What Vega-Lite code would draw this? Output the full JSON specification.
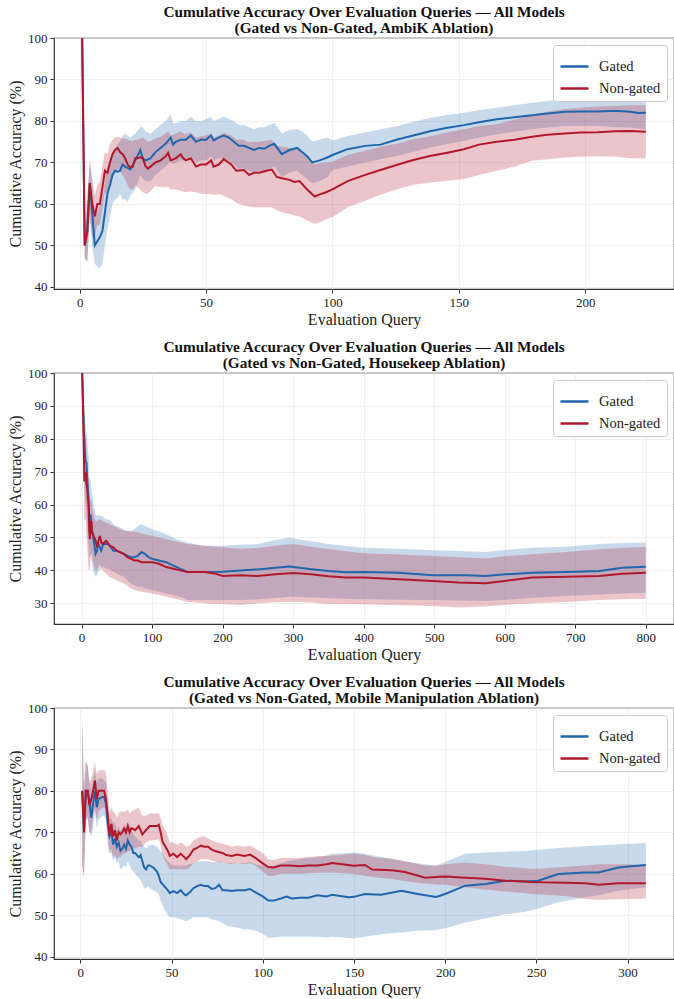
{
"$schema": "https://vega.github.io/schema/vega-lite/v6.json",
"background": "white",
"padding": {"left": 6, "top": 4, "right": 2, "bottom": 0},
"config": {
  "font": "Liberation Serif",
  "view": {"stroke": "#333333", "strokeWidth": 1.2},
  "axis": {"labelFont": "Liberation Serif", "labelFontSize": 13, "labelColor": "#222222", "titleFont": "Liberation Serif", "titleFontSize": 16, "titleFontWeight": "normal", "titleColor": "#222222", "domain": false, "tickColor": "#333333", "tickSize": 4, "labelPadding": 3, "gridColor": "#ececec", "gridWidth": 0.8},
  "axisX": {"titlePadding": 2},
  "title": {"font": "Liberation Serif", "fontSize": 15.3, "fontWeight": "bold", "color": "#111111", "offset": -4, "lineHeight": 16},
  "legend": {"orient": "top-right", "offset": 7, "fillColor": "white", "strokeColor": "#cccccc", "padding": 6, "cornerRadius": 3, "symbolType": "stroke", "symbolStrokeWidth": 2.5, "symbolSize": 784, "symbolOpacity": 1, "labelFont": "Liberation Serif", "labelFontSize": 14.5, "labelColor": "#222222", "rowPadding": -7, "labelOffset": 9},
  "concat": {"spacing": 11}
},
"resolve": {"scale": {"color": "independent", "x": "independent", "y": "independent"}, "legend": {"color": "independent"}},
"datasets": {
"ambik": [
{"x":1,"s":"Gated","m":100,"lo":100,"hi":100},
{"x":2,"s":"Gated","m":50,"lo":47,"hi":53},
{"x":3,"s":"Gated","m":53.3,"lo":46,"hi":61},
{"x":4,"s":"Gated","m":65,"lo":57,"hi":70.5},
{"x":5,"s":"Gated","m":57.5,"lo":50,"hi":65},
{"x":6,"s":"Gated","m":50,"lo":45.5,"hi":57},
{"x":7,"s":"Gated","m":51,"lo":45,"hi":58},
{"x":8,"s":"Gated","m":52,"lo":44.5,"hi":59.5},
{"x":9,"s":"Gated","m":53.5,"lo":45.5,"hi":61},
{"x":10,"s":"Gated","m":58,"lo":50,"hi":65},
{"x":11,"s":"Gated","m":62.5,"lo":54,"hi":69},
{"x":12,"s":"Gated","m":64.5,"lo":57,"hi":71},
{"x":13,"s":"Gated","m":67,"lo":60,"hi":72.5},
{"x":14,"s":"Gated","m":68,"lo":61,"hi":73.5},
{"x":15,"s":"Gated","m":67.8,"lo":61.5,"hi":74.5},
{"x":16,"s":"Gated","m":68,"lo":62.5,"hi":75},
{"x":17,"s":"Gated","m":69.5,"lo":61,"hi":76.5},
{"x":18,"s":"Gated","m":69,"lo":61.2,"hi":77},
{"x":19,"s":"Gated","m":68.7,"lo":60.5,"hi":76.5},
{"x":20,"s":"Gated","m":68.3,"lo":62,"hi":76},
{"x":22,"s":"Gated","m":70.5,"lo":63.5,"hi":77},
{"x":24,"s":"Gated","m":73,"lo":67,"hi":78.5},
{"x":25,"s":"Gated","m":71,"lo":66,"hi":78.5},
{"x":26,"s":"Gated","m":70.5,"lo":65.5,"hi":77.5},
{"x":28,"s":"Gated","m":71,"lo":65.5,"hi":77},
{"x":30,"s":"Gated","m":72.5,"lo":67,"hi":78},
{"x":32,"s":"Gated","m":73.5,"lo":68,"hi":79},
{"x":34,"s":"Gated","m":74.5,"lo":69,"hi":80},
{"x":36,"s":"Gated","m":76,"lo":70.5,"hi":81.5},
{"x":37,"s":"Gated","m":74.3,"lo":69.5,"hi":79.5},
{"x":38,"s":"Gated","m":75,"lo":70,"hi":79.5},
{"x":40,"s":"Gated","m":75.5,"lo":70.5,"hi":80},
{"x":42,"s":"Gated","m":75.5,"lo":70.5,"hi":80},
{"x":44,"s":"Gated","m":76.5,"lo":71.5,"hi":81},
{"x":46,"s":"Gated","m":75,"lo":70,"hi":80},
{"x":48,"s":"Gated","m":75.5,"lo":70.5,"hi":80},
{"x":50,"s":"Gated","m":75.5,"lo":70.5,"hi":80.5},
{"x":52,"s":"Gated","m":76.5,"lo":71.5,"hi":81},
{"x":53,"s":"Gated","m":75.3,"lo":70.5,"hi":80},
{"x":55,"s":"Gated","m":76,"lo":71,"hi":80.5},
{"x":57,"s":"Gated","m":76.5,"lo":71,"hi":81},
{"x":59,"s":"Gated","m":76,"lo":70.5,"hi":80.5},
{"x":61,"s":"Gated","m":75,"lo":69.5,"hi":80},
{"x":63,"s":"Gated","m":74,"lo":68.5,"hi":79},
{"x":65,"s":"Gated","m":74,"lo":68.5,"hi":79},
{"x":67,"s":"Gated","m":73.5,"lo":68,"hi":78.5},
{"x":69,"s":"Gated","m":73,"lo":67.5,"hi":78},
{"x":71,"s":"Gated","m":73.5,"lo":68,"hi":78.5},
{"x":73,"s":"Gated","m":73.3,"lo":67.5,"hi":78.5},
{"x":75,"s":"Gated","m":74,"lo":68.5,"hi":79},
{"x":77,"s":"Gated","m":74.5,"lo":69,"hi":79.5},
{"x":80,"s":"Gated","m":72,"lo":66.5,"hi":77},
{"x":83,"s":"Gated","m":73,"lo":67.5,"hi":77.8},
{"x":86,"s":"Gated","m":73.5,"lo":68,"hi":78},
{"x":88,"s":"Gated","m":72.5,"lo":67,"hi":77.5},
{"x":90,"s":"Gated","m":71.5,"lo":66,"hi":76.5},
{"x":92,"s":"Gated","m":70,"lo":65,"hi":75},
{"x":95,"s":"Gated","m":70.5,"lo":65.5,"hi":75.5},
{"x":98,"s":"Gated","m":71.2,"lo":66.5,"hi":76},
{"x":100,"s":"Gated","m":71.8,"lo":68.2,"hi":75.3},
{"x":106,"s":"Gated","m":73.2,"lo":69,"hi":76.4},
{"x":113,"s":"Gated","m":74,"lo":70,"hi":77.2},
{"x":119,"s":"Gated","m":74.3,"lo":70.8,"hi":78},
{"x":126,"s":"Gated","m":75.6,"lo":71.6,"hi":78.8},
{"x":132,"s":"Gated","m":76.5,"lo":72.6,"hi":79.8},
{"x":139,"s":"Gated","m":77.6,"lo":73.6,"hi":80.8},
{"x":145,"s":"Gated","m":78.3,"lo":74.4,"hi":81.4},
{"x":152,"s":"Gated","m":79,"lo":75.2,"hi":82},
{"x":158,"s":"Gated","m":79.7,"lo":76,"hi":82.6},
{"x":165,"s":"Gated","m":80.4,"lo":76.8,"hi":83.2},
{"x":172,"s":"Gated","m":80.9,"lo":77.4,"hi":83.8},
{"x":179,"s":"Gated","m":81.4,"lo":78,"hi":84.4},
{"x":185,"s":"Gated","m":81.8,"lo":78.4,"hi":84.8},
{"x":192,"s":"Gated","m":82.2,"lo":78.8,"hi":85.2},
{"x":198,"s":"Gated","m":82.3,"lo":78.8,"hi":85.6},
{"x":205,"s":"Gated","m":82.3,"lo":78.8,"hi":86},
{"x":210,"s":"Gated","m":82.4,"lo":78.6,"hi":86.1},
{"x":213,"s":"Gated","m":82.4,"lo":78.5,"hi":86.2},
{"x":218,"s":"Gated","m":82.2,"lo":78.4,"hi":86.3},
{"x":221,"s":"Gated","m":81.9,"lo":78.2,"hi":86.3},
{"x":224,"s":"Gated","m":82,"lo":78,"hi":86.4},
{"x":1,"s":"Non-gated","m":100,"lo":100,"hi":100},
{"x":2,"s":"Non-gated","m":50,"lo":47,"hi":53},
{"x":3,"s":"Non-gated","m":53.3,"lo":46,"hi":61},
{"x":4,"s":"Non-gated","m":65,"lo":57,"hi":70.5},
{"x":5,"s":"Non-gated","m":60,"lo":52,"hi":66},
{"x":6,"s":"Non-gated","m":57,"lo":52,"hi":62},
{"x":7,"s":"Non-gated","m":60,"lo":55,"hi":64.5},
{"x":8,"s":"Non-gated","m":60,"lo":55,"hi":65.5},
{"x":9,"s":"Non-gated","m":64,"lo":59,"hi":69},
{"x":10,"s":"Non-gated","m":68,"lo":63,"hi":72.5},
{"x":11,"s":"Non-gated","m":67.5,"lo":62,"hi":72},
{"x":12,"s":"Non-gated","m":70,"lo":64.5,"hi":74.5},
{"x":13,"s":"Non-gated","m":72,"lo":66.5,"hi":75.5},
{"x":14,"s":"Non-gated","m":73,"lo":67.5,"hi":76},
{"x":15,"s":"Non-gated","m":73.5,"lo":68.5,"hi":76.2},
{"x":16,"s":"Non-gated","m":72.5,"lo":68,"hi":76},
{"x":17,"s":"Non-gated","m":72,"lo":67,"hi":75.8},
{"x":18,"s":"Non-gated","m":71,"lo":66,"hi":75.8},
{"x":19,"s":"Non-gated","m":69.5,"lo":64.5,"hi":75.5},
{"x":20,"s":"Non-gated","m":68.8,"lo":63.5,"hi":75.3},
{"x":21,"s":"Non-gated","m":69,"lo":63.5,"hi":75.2},
{"x":22,"s":"Non-gated","m":71,"lo":64.4,"hi":75.5},
{"x":23,"s":"Non-gated","m":71,"lo":64,"hi":75.5},
{"x":24,"s":"Non-gated","m":71.3,"lo":63.5,"hi":75.8},
{"x":25,"s":"Non-gated","m":71,"lo":62.8,"hi":76},
{"x":26,"s":"Non-gated","m":69.2,"lo":62.5,"hi":75.5},
{"x":27,"s":"Non-gated","m":68.5,"lo":62.5,"hi":75},
{"x":28,"s":"Non-gated","m":69,"lo":63,"hi":75.2},
{"x":30,"s":"Non-gated","m":70,"lo":64.4,"hi":75.8},
{"x":32,"s":"Non-gated","m":70.5,"lo":64,"hi":76.2},
{"x":34,"s":"Non-gated","m":71.5,"lo":64,"hi":77},
{"x":35,"s":"Non-gated","m":72.3,"lo":64.2,"hi":77.5},
{"x":36,"s":"Non-gated","m":70.5,"lo":63.5,"hi":76.5},
{"x":38,"s":"Non-gated","m":71,"lo":63.5,"hi":77},
{"x":40,"s":"Non-gated","m":72,"lo":63.2,"hi":77.5},
{"x":41,"s":"Non-gated","m":71,"lo":63,"hi":77},
{"x":42,"s":"Non-gated","m":70.5,"lo":62.8,"hi":76.8},
{"x":44,"s":"Non-gated","m":71,"lo":63,"hi":77.2},
{"x":46,"s":"Non-gated","m":69,"lo":62.8,"hi":76},
{"x":48,"s":"Non-gated","m":69.5,"lo":62.5,"hi":76.3},
{"x":50,"s":"Non-gated","m":69.5,"lo":62.4,"hi":76.5},
{"x":52,"s":"Non-gated","m":70.5,"lo":62.4,"hi":77},
{"x":53,"s":"Non-gated","m":69,"lo":62.2,"hi":76},
{"x":55,"s":"Non-gated","m":69.5,"lo":62.4,"hi":76.5},
{"x":57,"s":"Non-gated","m":70.8,"lo":62,"hi":77.2},
{"x":60,"s":"Non-gated","m":69.5,"lo":61.2,"hi":76.5},
{"x":62,"s":"Non-gated","m":68,"lo":60.2,"hi":75.5},
{"x":65,"s":"Non-gated","m":68.2,"lo":59.6,"hi":75.5},
{"x":67,"s":"Non-gated","m":67,"lo":59.4,"hi":74.8},
{"x":69,"s":"Non-gated","m":67.5,"lo":59.2,"hi":75},
{"x":71,"s":"Non-gated","m":67.5,"lo":59.2,"hi":75},
{"x":74,"s":"Non-gated","m":68,"lo":59.2,"hi":75.3},
{"x":76,"s":"Non-gated","m":68.3,"lo":59.2,"hi":75.5},
{"x":78,"s":"Non-gated","m":66.5,"lo":58.5,"hi":74},
{"x":80,"s":"Non-gated","m":66.2,"lo":58,"hi":73.8},
{"x":83,"s":"Non-gated","m":65.8,"lo":57.6,"hi":73.5},
{"x":85,"s":"Non-gated","m":65.3,"lo":57.2,"hi":73},
{"x":87,"s":"Non-gated","m":65.5,"lo":57,"hi":73},
{"x":90,"s":"Non-gated","m":63.5,"lo":56,"hi":71.5},
{"x":93,"s":"Non-gated","m":61.8,"lo":55.2,"hi":69.5},
{"x":95,"s":"Non-gated","m":62.3,"lo":55.6,"hi":69.8},
{"x":97,"s":"Non-gated","m":62.7,"lo":56.2,"hi":70},
{"x":100,"s":"Non-gated","m":63.5,"lo":56.8,"hi":70.2},
{"x":106,"s":"Non-gated","m":65.5,"lo":59.2,"hi":71.8},
{"x":113,"s":"Non-gated","m":67,"lo":60.8,"hi":72.8},
{"x":119,"s":"Non-gated","m":68.2,"lo":62.2,"hi":73.8},
{"x":126,"s":"Non-gated","m":69.5,"lo":63.6,"hi":74.6},
{"x":132,"s":"Non-gated","m":70.6,"lo":64.6,"hi":75.6},
{"x":139,"s":"Non-gated","m":71.6,"lo":65.2,"hi":76.3},
{"x":145,"s":"Non-gated","m":72.3,"lo":65.6,"hi":77.2},
{"x":152,"s":"Non-gated","m":73.2,"lo":66,"hi":78},
{"x":158,"s":"Non-gated","m":74.3,"lo":67,"hi":78.8},
{"x":165,"s":"Non-gated","m":75,"lo":68,"hi":79.2},
{"x":172,"s":"Non-gated","m":75.5,"lo":69,"hi":80.3},
{"x":179,"s":"Non-gated","m":76.2,"lo":70.4,"hi":81.5},
{"x":185,"s":"Non-gated","m":76.7,"lo":70.8,"hi":82.2},
{"x":192,"s":"Non-gated","m":77,"lo":71.2,"hi":82.8},
{"x":198,"s":"Non-gated","m":77.2,"lo":71.4,"hi":83.2},
{"x":205,"s":"Non-gated","m":77.3,"lo":71.5,"hi":83.5},
{"x":212,"s":"Non-gated","m":77.5,"lo":71.4,"hi":83.7},
{"x":218,"s":"Non-gated","m":77.6,"lo":71,"hi":83.8},
{"x":224,"s":"Non-gated","m":77.4,"lo":71,"hi":83.8}
],
"house": [
{"x":1,"s":"Gated","m":100,"lo":100,"hi":100},
{"x":2,"s":"Gated","m":92,"lo":85,"hi":99},
{"x":3,"s":"Gated","m":85,"lo":75,"hi":95},
{"x":4,"s":"Gated","m":80,"lo":68,"hi":90},
{"x":5,"s":"Gated","m":75,"lo":62,"hi":86},
{"x":6,"s":"Gated","m":73,"lo":60,"hi":84},
{"x":7,"s":"Gated","m":72.8,"lo":58,"hi":82},
{"x":8,"s":"Gated","m":68,"lo":54,"hi":80},
{"x":9,"s":"Gated","m":65,"lo":50,"hi":77},
{"x":10,"s":"Gated","m":62,"lo":47,"hi":75},
{"x":11,"s":"Gated","m":55,"lo":44,"hi":68},
{"x":12,"s":"Gated","m":56,"lo":44,"hi":68},
{"x":13,"s":"Gated","m":57,"lo":45,"hi":67},
{"x":14,"s":"Gated","m":54,"lo":43,"hi":65},
{"x":15,"s":"Gated","m":52,"lo":42,"hi":63},
{"x":16,"s":"Gated","m":51,"lo":40,"hi":62},
{"x":18,"s":"Gated","m":48,"lo":39,"hi":59},
{"x":20,"s":"Gated","m":45,"lo":38,"hi":57},
{"x":22,"s":"Gated","m":46,"lo":38.5,"hi":56.5},
{"x":24,"s":"Gated","m":48,"lo":40,"hi":57},
{"x":26,"s":"Gated","m":47,"lo":40,"hi":56.5},
{"x":28,"s":"Gated","m":46,"lo":40.5,"hi":56.5},
{"x":30,"s":"Gated","m":47.5,"lo":41,"hi":56.5},
{"x":32,"s":"Gated","m":48,"lo":41,"hi":56},
{"x":35,"s":"Gated","m":48,"lo":40.5,"hi":55.5},
{"x":38,"s":"Gated","m":48,"lo":40.5,"hi":55.5},
{"x":42,"s":"Gated","m":47,"lo":40,"hi":55},
{"x":45,"s":"Gated","m":46,"lo":39.5,"hi":54},
{"x":50,"s":"Gated","m":46,"lo":39,"hi":53.5},
{"x":55,"s":"Gated","m":45.5,"lo":38.5,"hi":53},
{"x":60,"s":"Gated","m":45,"lo":38,"hi":52.5},
{"x":65,"s":"Gated","m":44.5,"lo":37,"hi":52},
{"x":70,"s":"Gated","m":44,"lo":36,"hi":52},
{"x":75,"s":"Gated","m":44,"lo":35.5,"hi":52.5},
{"x":80,"s":"Gated","m":44.5,"lo":35,"hi":53.5},
{"x":85,"s":"Gated","m":45.5,"lo":35,"hi":54},
{"x":90,"s":"Gated","m":45,"lo":34.5,"hi":53.5},
{"x":95,"s":"Gated","m":44,"lo":34.2,"hi":53},
{"x":100,"s":"Gated","m":43.5,"lo":34,"hi":52.5},
{"x":110,"s":"Gated","m":43,"lo":33.5,"hi":51.8},
{"x":120,"s":"Gated","m":42.5,"lo":33,"hi":51},
{"x":125,"s":"Gated","m":42,"lo":32.8,"hi":50.5},
{"x":135,"s":"Gated","m":41,"lo":32.2,"hi":49.5},
{"x":145,"s":"Gated","m":40,"lo":31.5,"hi":48.8},
{"x":150,"s":"Gated","m":39.5,"lo":31,"hi":48.5},
{"x":160,"s":"Gated","m":39.5,"lo":31,"hi":48},
{"x":175,"s":"Gated","m":39.5,"lo":31,"hi":47.5},
{"x":200,"s":"Gated","m":39.6,"lo":31,"hi":47.5},
{"x":225,"s":"Gated","m":40,"lo":31,"hi":47.8},
{"x":250,"s":"Gated","m":40.3,"lo":31.2,"hi":48},
{"x":275,"s":"Gated","m":40.8,"lo":31.6,"hi":49.2},
{"x":295,"s":"Gated","m":41.2,"lo":32,"hi":50},
{"x":320,"s":"Gated","m":40.5,"lo":31.8,"hi":49},
{"x":350,"s":"Gated","m":39.8,"lo":31.5,"hi":48},
{"x":375,"s":"Gated","m":39.4,"lo":31.4,"hi":47.4},
{"x":400,"s":"Gated","m":39.5,"lo":31.2,"hi":46.9},
{"x":450,"s":"Gated","m":39.3,"lo":31.1,"hi":46.6},
{"x":498,"s":"Gated","m":38.5,"lo":31,"hi":46.1},
{"x":545,"s":"Gated","m":38.5,"lo":30.8,"hi":45.8},
{"x":573,"s":"Gated","m":38.3,"lo":30.7,"hi":45.6},
{"x":600,"s":"Gated","m":38.8,"lo":31,"hi":46.2},
{"x":639,"s":"Gated","m":39.3,"lo":31.7,"hi":46.9},
{"x":687,"s":"Gated","m":39.5,"lo":32.2,"hi":47.2},
{"x":734,"s":"Gated","m":39.8,"lo":32.7,"hi":48},
{"x":767,"s":"Gated","m":40.8,"lo":33,"hi":48.3},
{"x":800,"s":"Gated","m":41.1,"lo":33.2,"hi":48.5},
{"x":1,"s":"Non-gated","m":100,"lo":100,"hi":100},
{"x":2,"s":"Non-gated","m":90,"lo":82,"hi":98},
{"x":3,"s":"Non-gated","m":80,"lo":70,"hi":90},
{"x":4,"s":"Non-gated","m":67,"lo":56,"hi":78},
{"x":5,"s":"Non-gated","m":68,"lo":55,"hi":80},
{"x":6,"s":"Non-gated","m":70,"lo":56,"hi":80},
{"x":7,"s":"Non-gated","m":66,"lo":50,"hi":76},
{"x":8,"s":"Non-gated","m":65,"lo":48,"hi":72},
{"x":9,"s":"Non-gated","m":62,"lo":44,"hi":70},
{"x":10,"s":"Non-gated","m":60,"lo":40,"hi":68},
{"x":11,"s":"Non-gated","m":52,"lo":40,"hi":62},
{"x":12,"s":"Non-gated","m":49.5,"lo":41,"hi":60},
{"x":13,"s":"Non-gated","m":54,"lo":44,"hi":62},
{"x":14,"s":"Non-gated","m":55,"lo":45,"hi":61},
{"x":15,"s":"Non-gated","m":52,"lo":45,"hi":60},
{"x":16,"s":"Non-gated","m":51,"lo":43,"hi":58},
{"x":18,"s":"Non-gated","m":50,"lo":41,"hi":56},
{"x":20,"s":"Non-gated","m":49,"lo":40,"hi":55},
{"x":22,"s":"Non-gated","m":47,"lo":40,"hi":55},
{"x":24,"s":"Non-gated","m":49,"lo":41,"hi":55.5},
{"x":26,"s":"Non-gated","m":50.5,"lo":42,"hi":55.5},
{"x":28,"s":"Non-gated","m":48.5,"lo":41,"hi":55.5},
{"x":30,"s":"Non-gated","m":48,"lo":40,"hi":55},
{"x":35,"s":"Non-gated","m":49,"lo":39,"hi":54.5},
{"x":40,"s":"Non-gated","m":47.5,"lo":38,"hi":54},
{"x":45,"s":"Non-gated","m":47,"lo":37.5,"hi":53.5},
{"x":50,"s":"Non-gated","m":46,"lo":37,"hi":53},
{"x":55,"s":"Non-gated","m":45.5,"lo":36.5,"hi":52.5},
{"x":60,"s":"Non-gated","m":45,"lo":36,"hi":52},
{"x":65,"s":"Non-gated","m":44,"lo":35.3,"hi":52},
{"x":70,"s":"Non-gated","m":43.5,"lo":34.5,"hi":51.8},
{"x":75,"s":"Non-gated","m":43,"lo":34,"hi":51.7},
{"x":80,"s":"Non-gated","m":43,"lo":33.8,"hi":51.5},
{"x":85,"s":"Non-gated","m":42.5,"lo":33.5,"hi":51.2},
{"x":100,"s":"Non-gated","m":42.5,"lo":33,"hi":50.5},
{"x":110,"s":"Non-gated","m":42,"lo":32.5,"hi":50},
{"x":120,"s":"Non-gated","m":41,"lo":32,"hi":49.5},
{"x":130,"s":"Non-gated","m":40.5,"lo":31.5,"hi":49},
{"x":140,"s":"Non-gated","m":40,"lo":31,"hi":48.5},
{"x":150,"s":"Non-gated","m":39.5,"lo":30.5,"hi":48},
{"x":175,"s":"Non-gated","m":39.5,"lo":30,"hi":47.5},
{"x":190,"s":"Non-gated","m":39,"lo":29.8,"hi":47.2},
{"x":200,"s":"Non-gated","m":38.3,"lo":29.8,"hi":47},
{"x":225,"s":"Non-gated","m":38.5,"lo":29.5,"hi":46.5},
{"x":250,"s":"Non-gated","m":38.3,"lo":30,"hi":46.8},
{"x":275,"s":"Non-gated","m":38.8,"lo":30.3,"hi":47.5},
{"x":300,"s":"Non-gated","m":39.2,"lo":30.5,"hi":48},
{"x":325,"s":"Non-gated","m":38.8,"lo":30.2,"hi":47.2},
{"x":350,"s":"Non-gated","m":38.2,"lo":29.8,"hi":46.5},
{"x":375,"s":"Non-gated","m":37.8,"lo":29.7,"hi":45.8},
{"x":400,"s":"Non-gated","m":37.8,"lo":29.7,"hi":45.2},
{"x":450,"s":"Non-gated","m":37.3,"lo":29.4,"hi":44.8},
{"x":498,"s":"Non-gated","m":36.8,"lo":29.2,"hi":44.4},
{"x":535,"s":"Non-gated","m":36.3,"lo":28.7,"hi":44},
{"x":573,"s":"Non-gated","m":36.1,"lo":29,"hi":43.6},
{"x":600,"s":"Non-gated","m":36.8,"lo":29.5,"hi":44.3},
{"x":639,"s":"Non-gated","m":37.8,"lo":30,"hi":44.9},
{"x":687,"s":"Non-gated","m":38.1,"lo":30.4,"hi":45.6},
{"x":734,"s":"Non-gated","m":38.3,"lo":31,"hi":46.4},
{"x":767,"s":"Non-gated","m":39,"lo":31.2,"hi":46.8},
{"x":800,"s":"Non-gated","m":39.3,"lo":31.4,"hi":47.2}
],
"mobile": [
{"x":1,"s":"Gated","m":80,"lo":62,"hi":98},
{"x":2,"s":"Gated","m":70,"lo":60,"hi":80},
{"x":3,"s":"Gated","m":80,"lo":73,"hi":87},
{"x":4,"s":"Gated","m":80,"lo":73,"hi":86},
{"x":5,"s":"Gated","m":77,"lo":70,"hi":82},
{"x":6,"s":"Gated","m":73.5,"lo":69,"hi":80},
{"x":7,"s":"Gated","m":77,"lo":71,"hi":83},
{"x":8,"s":"Gated","m":80,"lo":75,"hi":85},
{"x":9,"s":"Gated","m":76,"lo":71,"hi":82},
{"x":10,"s":"Gated","m":78,"lo":73,"hi":83},
{"x":11,"s":"Gated","m":78.3,"lo":73.5,"hi":83},
{"x":12,"s":"Gated","m":78.5,"lo":74,"hi":83},
{"x":13,"s":"Gated","m":78.5,"lo":74,"hi":82.5},
{"x":14,"s":"Gated","m":77,"lo":73,"hi":82},
{"x":15,"s":"Gated","m":72,"lo":67,"hi":77},
{"x":16,"s":"Gated","m":69,"lo":65,"hi":73},
{"x":17,"s":"Gated","m":70,"lo":65,"hi":73.5},
{"x":18,"s":"Gated","m":67,"lo":63,"hi":72},
{"x":19,"s":"Gated","m":68.5,"lo":64,"hi":72.5},
{"x":20,"s":"Gated","m":66.5,"lo":62.5,"hi":70.5},
{"x":21,"s":"Gated","m":67.5,"lo":63,"hi":71.5},
{"x":22,"s":"Gated","m":65.5,"lo":61,"hi":70.5},
{"x":23,"s":"Gated","m":66,"lo":61.5,"hi":70.5},
{"x":24,"s":"Gated","m":67,"lo":62,"hi":71},
{"x":25,"s":"Gated","m":66,"lo":61.5,"hi":71},
{"x":26,"s":"Gated","m":68,"lo":63,"hi":72.5},
{"x":27,"s":"Gated","m":67,"lo":62,"hi":71.5},
{"x":28,"s":"Gated","m":66.5,"lo":61,"hi":70.5},
{"x":29,"s":"Gated","m":65,"lo":60.5,"hi":69.5},
{"x":30,"s":"Gated","m":65,"lo":60,"hi":69},
{"x":31,"s":"Gated","m":64.5,"lo":59.5,"hi":68.5},
{"x":32,"s":"Gated","m":64,"lo":59,"hi":68},
{"x":33,"s":"Gated","m":64.5,"lo":58.5,"hi":68},
{"x":34,"s":"Gated","m":63,"lo":57.5,"hi":67},
{"x":35,"s":"Gated","m":61.5,"lo":56.5,"hi":66.5},
{"x":36,"s":"Gated","m":61,"lo":56.5,"hi":66},
{"x":37,"s":"Gated","m":62,"lo":57,"hi":66.5},
{"x":38,"s":"Gated","m":62,"lo":56.5,"hi":67},
{"x":40,"s":"Gated","m":61.5,"lo":56,"hi":67},
{"x":42,"s":"Gated","m":60.5,"lo":55.5,"hi":66.5},
{"x":43,"s":"Gated","m":59.5,"lo":55,"hi":66},
{"x":44,"s":"Gated","m":58,"lo":53.5,"hi":65.5},
{"x":45,"s":"Gated","m":57.5,"lo":52.5,"hi":65},
{"x":46,"s":"Gated","m":57,"lo":51.5,"hi":64},
{"x":48,"s":"Gated","m":56,"lo":50,"hi":63},
{"x":49,"s":"Gated","m":55.3,"lo":49.5,"hi":62.5},
{"x":51,"s":"Gated","m":55.8,"lo":49.5,"hi":62},
{"x":53,"s":"Gated","m":55.3,"lo":49.3,"hi":62},
{"x":55,"s":"Gated","m":56,"lo":49,"hi":62},
{"x":57,"s":"Gated","m":55,"lo":48.7,"hi":62},
{"x":58,"s":"Gated","m":54.8,"lo":48.5,"hi":62},
{"x":60,"s":"Gated","m":55.5,"lo":49,"hi":62.3},
{"x":62,"s":"Gated","m":56.5,"lo":49.5,"hi":62.5},
{"x":64,"s":"Gated","m":57,"lo":49.5,"hi":63},
{"x":66,"s":"Gated","m":57.3,"lo":49.5,"hi":63},
{"x":68,"s":"Gated","m":57,"lo":49.5,"hi":63},
{"x":70,"s":"Gated","m":57,"lo":49.5,"hi":63},
{"x":72,"s":"Gated","m":56.3,"lo":49,"hi":62.8},
{"x":74,"s":"Gated","m":56.5,"lo":48.8,"hi":62.8},
{"x":76,"s":"Gated","m":57.3,"lo":48.5,"hi":63},
{"x":78,"s":"Gated","m":56,"lo":48,"hi":62.7},
{"x":80,"s":"Gated","m":56,"lo":47.5,"hi":62.5},
{"x":83,"s":"Gated","m":55.8,"lo":47.2,"hi":62.5},
{"x":86,"s":"Gated","m":56,"lo":47,"hi":62.5},
{"x":90,"s":"Gated","m":56,"lo":46.5,"hi":62.5},
{"x":93,"s":"Gated","m":56.3,"lo":46.5,"hi":62.8},
{"x":96,"s":"Gated","m":55.5,"lo":46.3,"hi":62.2},
{"x":100,"s":"Gated","m":54.5,"lo":45.5,"hi":62},
{"x":103,"s":"Gated","m":53.5,"lo":44.5,"hi":61.8},
{"x":106,"s":"Gated","m":53.5,"lo":44.6,"hi":62},
{"x":110,"s":"Gated","m":54,"lo":44.8,"hi":62.5},
{"x":113,"s":"Gated","m":54.5,"lo":44.8,"hi":63},
{"x":116,"s":"Gated","m":54,"lo":44.8,"hi":63.2},
{"x":120,"s":"Gated","m":54.2,"lo":44.8,"hi":63.5},
{"x":125,"s":"Gated","m":54.2,"lo":44.8,"hi":63.8},
{"x":130,"s":"Gated","m":54.8,"lo":44.8,"hi":64},
{"x":135,"s":"Gated","m":54.5,"lo":44.6,"hi":64.3},
{"x":138,"s":"Gated","m":54.9,"lo":44.8,"hi":64.8},
{"x":147,"s":"Gated","m":54.3,"lo":44.5,"hi":65},
{"x":150,"s":"Gated","m":54.4,"lo":44.4,"hi":65.2},
{"x":156,"s":"Gated","m":55.1,"lo":44.8,"hi":64.8},
{"x":165,"s":"Gated","m":54.9,"lo":45.4,"hi":64},
{"x":176,"s":"Gated","m":55.9,"lo":45.8,"hi":63.1},
{"x":185,"s":"Gated","m":55.1,"lo":46.2,"hi":62.5},
{"x":195,"s":"Gated","m":54.4,"lo":46.4,"hi":61.9},
{"x":200,"s":"Gated","m":55.1,"lo":46.8,"hi":62.8},
{"x":211,"s":"Gated","m":57.1,"lo":48.2,"hi":64.8},
{"x":222,"s":"Gated","m":57.5,"lo":49.2,"hi":65.1},
{"x":233,"s":"Gated","m":58.3,"lo":50.2,"hi":65.3},
{"x":244,"s":"Gated","m":58.1,"lo":50.8,"hi":65.5},
{"x":251,"s":"Gated","m":58.3,"lo":51.6,"hi":65.8},
{"x":262,"s":"Gated","m":59.9,"lo":53.1,"hi":66.2},
{"x":277,"s":"Gated","m":60.3,"lo":54.3,"hi":66.6},
{"x":284,"s":"Gated","m":60.3,"lo":54.8,"hi":66.8},
{"x":295,"s":"Gated","m":61.5,"lo":55.9,"hi":67.1},
{"x":302,"s":"Gated","m":61.8,"lo":56.3,"hi":67.2},
{"x":310,"s":"Gated","m":62.1,"lo":56.7,"hi":67.4},
{"x":1,"s":"Non-gated","m":80,"lo":62,"hi":98},
{"x":2,"s":"Non-gated","m":70,"lo":59,"hi":81},
{"x":3,"s":"Non-gated","m":80,"lo":73,"hi":87.5},
{"x":4,"s":"Non-gated","m":80,"lo":74,"hi":86},
{"x":5,"s":"Non-gated","m":76.5,"lo":70,"hi":82},
{"x":6,"s":"Non-gated","m":78,"lo":70,"hi":83},
{"x":7,"s":"Non-gated","m":80,"lo":74,"hi":85},
{"x":8,"s":"Non-gated","m":82.5,"lo":76,"hi":87},
{"x":9,"s":"Non-gated","m":78,"lo":73,"hi":84},
{"x":10,"s":"Non-gated","m":80,"lo":75,"hi":85},
{"x":11,"s":"Non-gated","m":80,"lo":75.5,"hi":85},
{"x":12,"s":"Non-gated","m":80,"lo":76,"hi":85},
{"x":13,"s":"Non-gated","m":80,"lo":76,"hi":85},
{"x":14,"s":"Non-gated","m":78,"lo":75.5,"hi":84.5},
{"x":15,"s":"Non-gated","m":74,"lo":70,"hi":80},
{"x":16,"s":"Non-gated","m":69.2,"lo":65,"hi":75},
{"x":17,"s":"Non-gated","m":72,"lo":66,"hi":76},
{"x":18,"s":"Non-gated","m":69,"lo":64,"hi":75},
{"x":19,"s":"Non-gated","m":70.5,"lo":64.5,"hi":74.5},
{"x":20,"s":"Non-gated","m":68,"lo":63.5,"hi":73.5},
{"x":21,"s":"Non-gated","m":70,"lo":64,"hi":74.5},
{"x":22,"s":"Non-gated","m":69.5,"lo":64,"hi":75},
{"x":23,"s":"Non-gated","m":70,"lo":64.5,"hi":75},
{"x":24,"s":"Non-gated","m":71,"lo":65,"hi":75},
{"x":25,"s":"Non-gated","m":70,"lo":65,"hi":75},
{"x":26,"s":"Non-gated","m":71.5,"lo":65.5,"hi":75.5},
{"x":27,"s":"Non-gated","m":70,"lo":65.5,"hi":74.5},
{"x":28,"s":"Non-gated","m":71,"lo":66,"hi":75},
{"x":30,"s":"Non-gated","m":70.5,"lo":66,"hi":75.5},
{"x":32,"s":"Non-gated","m":71.5,"lo":66.5,"hi":76},
{"x":34,"s":"Non-gated","m":69.5,"lo":66.5,"hi":74},
{"x":36,"s":"Non-gated","m":70.5,"lo":67.5,"hi":74},
{"x":38,"s":"Non-gated","m":71.5,"lo":68,"hi":74.5},
{"x":40,"s":"Non-gated","m":71.5,"lo":68,"hi":74.5},
{"x":42,"s":"Non-gated","m":71.5,"lo":68.2,"hi":74.5},
{"x":43,"s":"Non-gated","m":71.8,"lo":68.3,"hi":74.5},
{"x":44,"s":"Non-gated","m":70,"lo":67,"hi":73.5},
{"x":45,"s":"Non-gated","m":67.8,"lo":64.5,"hi":72},
{"x":46,"s":"Non-gated","m":67,"lo":63.5,"hi":71},
{"x":48,"s":"Non-gated","m":65.5,"lo":62,"hi":69},
{"x":49,"s":"Non-gated","m":64.3,"lo":61,"hi":67.5},
{"x":51,"s":"Non-gated","m":64.8,"lo":61.2,"hi":67.5},
{"x":53,"s":"Non-gated","m":64,"lo":61,"hi":67},
{"x":55,"s":"Non-gated","m":64.8,"lo":61.2,"hi":67.5},
{"x":57,"s":"Non-gated","m":64,"lo":61,"hi":67},
{"x":58,"s":"Non-gated","m":63.5,"lo":61,"hi":66.5},
{"x":60,"s":"Non-gated","m":64.5,"lo":61.5,"hi":66.8},
{"x":62,"s":"Non-gated","m":65.8,"lo":62.5,"hi":68},
{"x":64,"s":"Non-gated","m":66.2,"lo":63,"hi":68.5},
{"x":66,"s":"Non-gated","m":66.8,"lo":63.5,"hi":69},
{"x":68,"s":"Non-gated","m":66.5,"lo":63.5,"hi":69},
{"x":70,"s":"Non-gated","m":66.5,"lo":63.5,"hi":68.5},
{"x":72,"s":"Non-gated","m":65.8,"lo":63.2,"hi":68},
{"x":75,"s":"Non-gated","m":65.3,"lo":62.8,"hi":67.5},
{"x":78,"s":"Non-gated","m":65,"lo":62.7,"hi":67.2},
{"x":80,"s":"Non-gated","m":64.5,"lo":62.5,"hi":67},
{"x":83,"s":"Non-gated","m":64.3,"lo":62.3,"hi":66.5},
{"x":86,"s":"Non-gated","m":64.6,"lo":62.5,"hi":66.8},
{"x":90,"s":"Non-gated","m":64.3,"lo":62.3,"hi":66.5},
{"x":93,"s":"Non-gated","m":64.6,"lo":62.5,"hi":66.8},
{"x":96,"s":"Non-gated","m":63.8,"lo":62,"hi":66},
{"x":100,"s":"Non-gated","m":62.5,"lo":60.5,"hi":65},
{"x":103,"s":"Non-gated","m":61.6,"lo":59.5,"hi":63.5},
{"x":106,"s":"Non-gated","m":61.5,"lo":59.5,"hi":63.3},
{"x":110,"s":"Non-gated","m":62,"lo":60,"hi":63.8},
{"x":115,"s":"Non-gated","m":62,"lo":60,"hi":63.8},
{"x":120,"s":"Non-gated","m":61.8,"lo":60,"hi":63.8},
{"x":125,"s":"Non-gated","m":62,"lo":60.1,"hi":64},
{"x":130,"s":"Non-gated","m":62,"lo":60.2,"hi":64.2},
{"x":135,"s":"Non-gated","m":62.3,"lo":60.3,"hi":64.3},
{"x":138,"s":"Non-gated","m":62.6,"lo":60.3,"hi":64.4},
{"x":150,"s":"Non-gated","m":61.9,"lo":59.9,"hi":64.8},
{"x":156,"s":"Non-gated","m":62.1,"lo":59.5,"hi":64.5},
{"x":160,"s":"Non-gated","m":61,"lo":59.2,"hi":64},
{"x":171,"s":"Non-gated","m":60.8,"lo":58.7,"hi":63.6},
{"x":178,"s":"Non-gated","m":60.4,"lo":58.2,"hi":63},
{"x":189,"s":"Non-gated","m":59,"lo":57.6,"hi":62},
{"x":195,"s":"Non-gated","m":59.2,"lo":57.4,"hi":61.9},
{"x":200,"s":"Non-gated","m":59.3,"lo":57.3,"hi":62.3},
{"x":211,"s":"Non-gated","m":59,"lo":56.7,"hi":62.7},
{"x":222,"s":"Non-gated","m":58.8,"lo":56.2,"hi":62.3},
{"x":229,"s":"Non-gated","m":58.5,"lo":55.9,"hi":61.9},
{"x":233,"s":"Non-gated","m":58.3,"lo":55.7,"hi":61.7},
{"x":244,"s":"Non-gated","m":58.1,"lo":55.3,"hi":61.3},
{"x":247,"s":"Non-gated","m":58,"lo":55.1,"hi":61.1},
{"x":255,"s":"Non-gated","m":57.9,"lo":54.9,"hi":61.3},
{"x":266,"s":"Non-gated","m":57.8,"lo":54.6,"hi":61.7},
{"x":277,"s":"Non-gated","m":57.7,"lo":53.9,"hi":62},
{"x":284,"s":"Non-gated","m":57.3,"lo":53.7,"hi":62.3},
{"x":295,"s":"Non-gated","m":57.7,"lo":53.8,"hi":62.3},
{"x":302,"s":"Non-gated","m":57.7,"lo":53.9,"hi":62.3},
{"x":310,"s":"Non-gated","m":57.7,"lo":54,"hi":61.9}
]
},
"vconcat": [
{
 "width": 620, "height": 251,
 "title": {"text": ["Cumulative Accuracy Over Evaluation Queries — All Models", "(Gated vs Non-Gated, AmbiK Ablation)"]},
 "data": {"name": "ambik"},
 "encoding": {
  "x": {"field": "x", "type": "quantitative", "scale": {"domain": [-10.15, 235.15], "nice": false, "zero": false}, "axis": {"title": "Evaluation Query", "values": [0, 50, 100, 150, 200]}},
  "color": {"field": "s", "type": "nominal", "scale": {"domain": ["Gated", "Non-gated"], "range": ["#2166ac", "#b2182b"]}, "legend": {"title": null}}
 },
 "layer": [
  {"mark": {"type": "area", "opacity": 0.25}, "encoding": {"y": {"field": "lo", "type": "quantitative", "title": "Cumulative Accuracy (%)", "scale": {"domain": [39.5, 100], "nice": false, "zero": false}, "axis": {"values": [40, 50, 60, 70, 80, 90, 100]}}, "y2": {"field": "hi"}}},
  {"mark": {"type": "line", "strokeWidth": 2}, "encoding": {"y": {"field": "m", "type": "quantitative", "title": "Cumulative Accuracy (%)", "axis": {"values": [40, 50, 60, 70, 80, 90, 100]}}}}
 ]
},
{
 "width": 620, "height": 251,
 "title": {"text": ["Cumulative Accuracy Over Evaluation Queries — All Models", "(Gated vs Non-Gated, Housekeep Ablation)"]},
 "data": {"name": "house"},
 "encoding": {
  "x": {"field": "x", "type": "quantitative", "scale": {"domain": [-39, 840], "nice": false, "zero": false}, "axis": {"title": "Evaluation Query", "values": [0, 100, 200, 300, 400, 500, 600, 700, 800]}},
  "color": {"field": "s", "type": "nominal", "scale": {"domain": ["Gated", "Non-gated"], "range": ["#2166ac", "#b2182b"]}, "legend": {"title": null}}
 },
 "layer": [
  {"mark": {"type": "area", "opacity": 0.25}, "encoding": {"y": {"field": "lo", "type": "quantitative", "title": "Cumulative Accuracy (%)", "scale": {"domain": [23.7, 100], "nice": false, "zero": false}, "axis": {"values": [30, 40, 50, 60, 70, 80, 90, 100]}}, "y2": {"field": "hi"}}},
  {"mark": {"type": "line", "strokeWidth": 2}, "encoding": {"y": {"field": "m", "type": "quantitative", "title": "Cumulative Accuracy (%)", "axis": {"values": [30, 40, 50, 60, 70, 80, 90, 100]}}}}
 ]
},
{
 "width": 620, "height": 251,
 "title": {"text": ["Cumulative Accuracy Over Evaluation Queries — All Models", "(Gated vs Non-Gated, Mobile Manipulation Ablation)"]},
 "data": {"name": "mobile"},
 "encoding": {
  "x": {"field": "x", "type": "quantitative", "scale": {"domain": [-14.45, 325.45], "nice": false, "zero": false}, "axis": {"title": "Evaluation Query", "values": [0, 50, 100, 150, 200, 250, 300]}},
  "color": {"field": "s", "type": "nominal", "scale": {"domain": ["Gated", "Non-gated"], "range": ["#2166ac", "#b2182b"]}, "legend": {"title": null}}
 },
 "layer": [
  {"mark": {"type": "area", "opacity": 0.25}, "encoding": {"y": {"field": "lo", "type": "quantitative", "title": "Cumulative Accuracy (%)", "scale": {"domain": [39.4, 100], "nice": false, "zero": false}, "axis": {"values": [40, 50, 60, 70, 80, 90, 100]}}, "y2": {"field": "hi"}}},
  {"mark": {"type": "line", "strokeWidth": 2}, "encoding": {"y": {"field": "m", "type": "quantitative", "title": "Cumulative Accuracy (%)", "axis": {"values": [40, 50, 60, 70, 80, 90, 100]}}}}
 ]
}
]
}
